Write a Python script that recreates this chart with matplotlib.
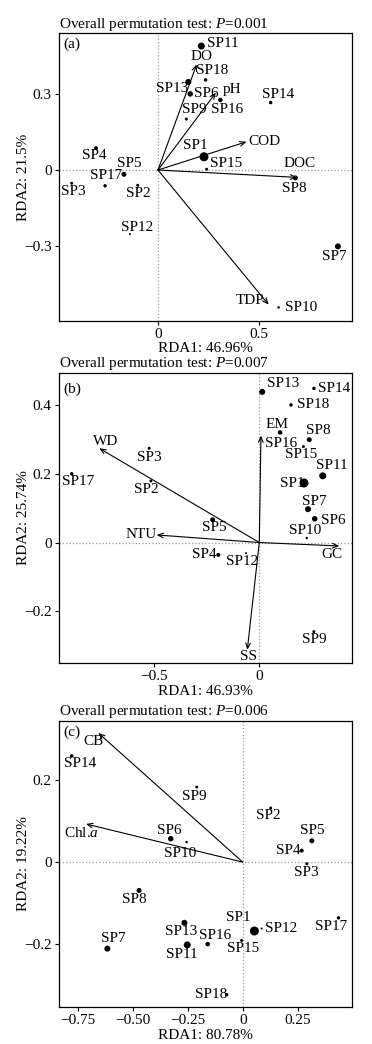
import matplotlib
matplotlib.use('Agg')
import matplotlib.pyplot as plt

plt.rcParams['font.family'] = ['Liberation Serif', 'DejaVu Serif']
plt.rcParams['mathtext.fontset'] = 'custom'
plt.rcParams['mathtext.rm'] = 'Liberation Serif'
plt.rcParams['mathtext.it'] = 'Liberation Serif:italic'
plt.rcParams['font.size'] = 11

# Datos
especies = ['SP%d' % i for i in range(1, 19)]
# tamaño del punto (abundancia relativa), igual en los tres paneles
abundancia = [9, 3, 3, 4, 5, 5.5, 6, 5, 3, 2.5, 7, 2, 6, 3.5, 3, 4.5, 3.5, 3.5]

a_x = [0.227, -0.100, -0.426, -0.306, -0.168, 0.159, 0.888, 0.678, 0.140,
       0.595, 0.214, -0.138, 0.150, 0.556, 0.240, 0.308, -0.261, 0.235]
a_y = [0.052, -0.060, -0.052, 0.086, -0.017, 0.299, -0.300, -0.031, 0.200,
       -0.540, 0.487, -0.252, 0.346, 0.265, 0.003, 0.275, -0.062, 0.354]
a_env = ['DO', 'pH', 'COD', 'DOC', 'TDP']
a_env_x = [0.191, 0.286, 0.437, 0.687, 0.546]
a_env_y = [0.415, 0.304, 0.111, -0.029, -0.529]

b_x = [0.213, -0.516, -0.524, -0.195, -0.222, 0.264, 0.232, 0.238, 0.260,
       0.226, 0.302, -0.063, 0.014, 0.260, 0.210, 0.099, -0.893, 0.151]
b_y = [0.173, 0.179, 0.274, -0.036, 0.066, 0.069, 0.097, 0.299, -0.259,
       0.013, 0.194, -0.031, 0.438, 0.448, 0.279, 0.320, 0.200, 0.400]
b_env = ['WD', 'EM', 'NTU', 'GC', 'SS']
b_env_x = [-0.762, 0.008, -0.489, 0.381, -0.057]
b_env_y = [0.274, 0.311, 0.022, -0.010, -0.312]

c_x = [0.053, 0.127, 0.291, 0.268, 0.314, -0.327, -0.615, -0.471, -0.209,
       -0.255, -0.252, 0.086, -0.265, -0.777, -0.005, -0.159, 0.435, -0.073]
c_y = [-0.168, 0.132, -0.004, 0.028, 0.052, 0.057, -0.211, -0.069, 0.183,
       0.049, -0.202, -0.162, -0.148, 0.259, -0.191, -0.200, -0.136, -0.323]
c_env = ['CB', 'Chl.$a$']
c_env_x = [-0.656, -0.712]
c_env_y = [0.315, 0.093]

p_valores = ['0.001', '0.007', '0.006']
rda1 = ['46.96%', '46.93%', '80.78%']
rda2 = ['21.5%', '25.74%', '19.22%']

# Desplazamientos de etiquetas (pixeles): dx, dy, alineacion
off_a = {'SP1': (-9, 11, 'center'), 'SP2': (1, -8, 'center'), 'SP3': (2, -8, 'center'),
         'SP4': (-2, -7, 'center'), 'SP5': (5, 11, 'center'), 'SP6': (4, 0, 'left'),
         'SP7': (-4, -10, 'center'), 'SP8': (-1, -11, 'center'), 'SP9': (8, 10, 'center'),
         'SP10': (6, 0, 'left'), 'SP11': (6, 3, 'left'), 'SP12': (7, 7, 'center'),
         'SP13': (0, -7, 'right'), 'SP14': (7, 8, 'center'), 'SP15': (3, 6, 'left'),
         'SP16': (7, -9, 'center'), 'SP17': (1, 10, 'center'), 'SP18': (7, 9, 'center'),
         'DO': (5, 8, 'center'), 'pH': (7, 3, 'left'), 'COD': (2, 0, 'left'),
         'DOC': (2, 14, 'center'), 'TDP': (-4, 4, 'right')}
off_b = {'SP1': (1, 0, 'right'), 'SP2': (-5, -9, 'center'), 'SP3': (0, -9, 'center'),
         'SP4': (-2, 0, 'right'), 'SP5': (2, -8, 'center'), 'SP6': (6, -2, 'left'),
         'SP7': (6, 8, 'center'), 'SP8': (9, 9, 'center'), 'SP9': (0, -8, 'center'),
         'SP10': (-2, 8, 'center'), 'SP11': (9, 10, 'center'), 'SP12': (-4, -8, 'center'),
         'SP13': (5, 8, 'left'), 'SP14': (4, 0, 'left'), 'SP15': (-2, -8, 'center'),
         'SP16': (1, -11, 'center'), 'SP17': (6, -8, 'center'), 'SP18': (6, 0, 'left'),
         'WD': (6, 7, 'center'), 'EM': (16, 11, 'center'), 'NTU': (0, 0, 'right'),
         'GC': (-7, -9, 'center'), 'SS': (1, -7, 'center')}
off_c = {'SP1': (-16, 13, 'center'), 'SP2': (-2, -8, 'center'), 'SP3': (0, -9, 'center'),
         'SP4': (-1, 0, 'right'), 'SP5': (0, 10, 'center'), 'SP6': (-1, 8, 'center'),
         'SP7': (6, 10, 'center'), 'SP8': (-5, -9, 'center'), 'SP9': (-2, -9, 'center'),
         'SP10': (-6, -11, 'center'), 'SP11': (-5, -10, 'center'), 'SP12': (3, 0, 'left'),
         'SP13': (-3, -9, 'center'), 'SP14': (8, -8, 'center'), 'SP15': (1, -8, 'center'),
         'SP16': (7, 9, 'center'), 'SP17': (-7, -9, 'center'), 'SP18': (1, 0, 'right'),
         'CB': (-5, -9, 'center'), 'Chl.$a$': (-5, -9, 'center')}

paneles = [
    dict(x=a_x, y=a_y, env=a_env, ex=a_env_x, ey=a_env_y, off=off_a, letra='(a)',
         pos=[0.1578, 0.6928, 0.7876, 0.2753], xlim=(-0.49, 0.956), ylim=(-0.592, 0.537),
         xt=[0, 0.5], xtl=['0', '0.5'], yt=[-0.3, 0, 0.3], ytl=['\u22120.3', '0', '0.3'],
         ly=0.963),
    dict(x=b_x, y=b_y, env=b_env, ex=b_env_x, ey=b_env_y, off=off_b, letra='(b)',
         pos=[0.1578, 0.3647, 0.7876, 0.2784], xlim=(-0.955, 0.44), ylim=(-0.351, 0.494),
         xt=[-0.5, 0], xtl=['\u22120.5', '0'], yt=[-0.2, 0, 0.2, 0.4],
         ytl=['\u22120.2', '0', '0.2', '0.4'], ly=0.941),
    dict(x=c_x, y=c_y, env=c_env, ex=c_env_x, ey=c_env_y, off=off_c, letra='(c)',
         pos=[0.1578, 0.0352, 0.7876, 0.2745], xlim=(-0.836, 0.495), ylim=(-0.354, 0.345),
         xt=[-0.75, -0.5, -0.25, 0, 0.25],
         xtl=['\u22120.75', '\u22120.50', '\u22120.25', '0', '0.25'],
         yt=[-0.2, 0, 0.2], ytl=['\u22120.2', '0', '0.2'], ly=0.96),
]

fig = plt.figure(figsize=(3.72, 10.44), dpi=100)

for k, p in enumerate(paneles):
    ax = fig.add_axes(p['pos'])
    ax.set_xlim(*p['xlim'])
    ax.set_ylim(*p['ylim'])
    ax.axhline(0, color='#999999', lw=0.9, ls=':', zorder=1)
    ax.axvline(0, color='#999999', lw=0.9, ls=':', zorder=1)

    # flechas de variables ambientales
    for nombre, ex, ey in zip(p['env'], p['ex'], p['ey']):
        ax.annotate('', xy=(ex, ey), xytext=(0, 0),
                    arrowprops=dict(arrowstyle='->,head_length=0.35,head_width=0.15',
                                    color='black', lw=0.8, shrinkA=0, shrinkB=0), zorder=2)
        dx, dy, ha = p['off'][nombre]
        ax.annotate(nombre, xy=(ex, ey), xytext=(dx, dy), textcoords='offset pixels',
                    ha=ha, va='center', fontsize=11, zorder=3)

    # especies
    ax.scatter(p['x'], p['y'], s=[(d * 0.72) ** 2 for d in abundancia],
               color='black', zorder=4, linewidths=0)
    for nombre, x, y in zip(especies, p['x'], p['y']):
        dx, dy, ha = p['off'][nombre]
        ax.annotate(nombre, xy=(x, y), xytext=(dx, dy), textcoords='offset pixels',
                    ha=ha, va='center', fontsize=11, zorder=3)

    ax.set_xticks(p['xt'])
    ax.set_xticklabels(p['xtl'])
    ax.set_yticks(p['yt'])
    ax.set_yticklabels(p['ytl'])
    ax.tick_params(direction='out', length=3, width=0.8, pad=2, labelsize=11)
    for s in ax.spines.values():
        s.set_linewidth(0.9)

    ax.text(0.015, p['ly'], p['letra'], transform=ax.transAxes, ha='left', va='center', fontsize=11)
    ax.set_title('Overall permutation test: $P$=' + p_valores[k], loc='left', pad=4, fontsize=11)
    ax.set_xlabel('RDA1: ' + rda1[k], fontsize=11, labelpad=1)
    ax.set_ylabel('RDA2: ' + rda2[k], fontsize=11)
    ax.yaxis.set_label_coords(-0.097, 0.5)

fig.savefig('out.png', dpi=100)
